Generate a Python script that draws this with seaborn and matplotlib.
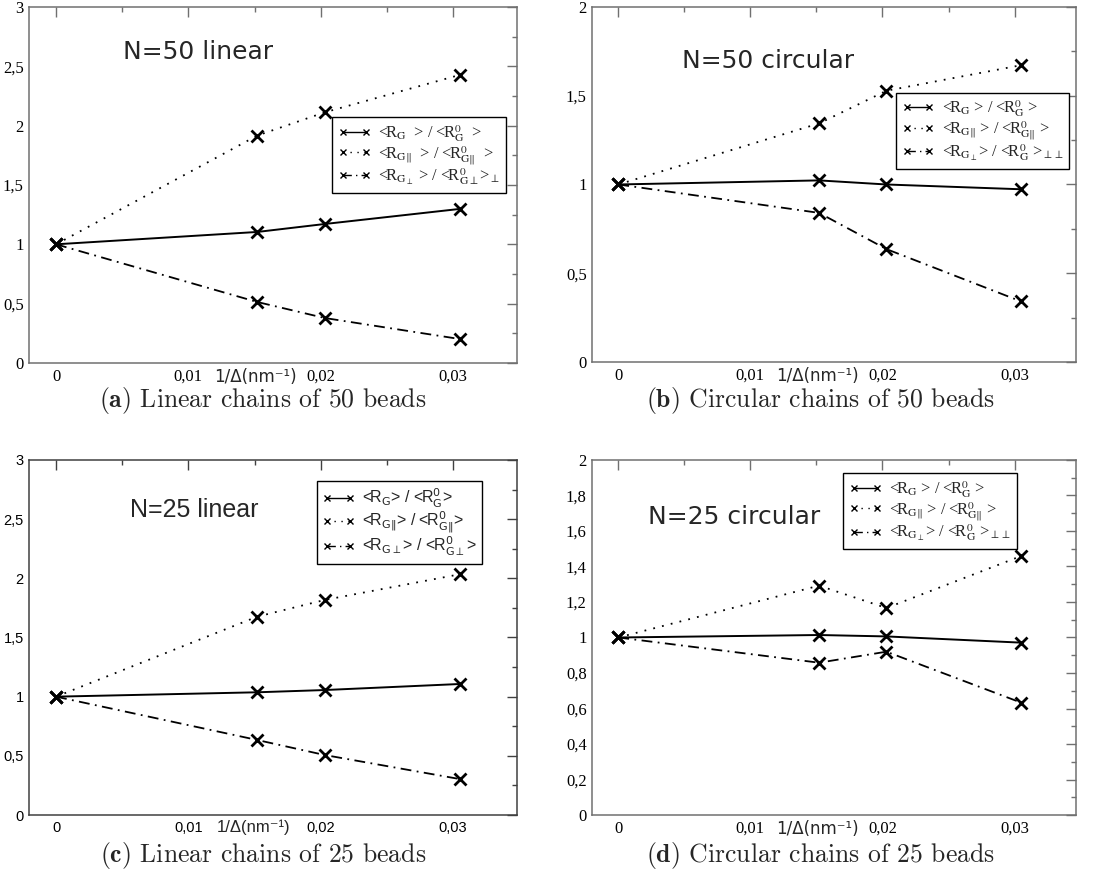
import matplotlib
matplotlib.use("Agg")
import matplotlib.pyplot as plt
import numpy as np
import pandas as pd
import seaborn as sns
from matplotlib.ticker import MultipleLocator, FuncFormatter
from matplotlib.font_manager import FontProperties

# ---------------- data ----------------
x_inv_delta = [0.0, 0.0152, 0.0203, 0.0305]

lin50_rg = [1.0, 1.104, 1.171, 1.298]
lin50_par = [1.0, 1.916, 2.112, 2.427]
lin50_perp = [1.0, 0.514, 0.379, 0.202]

circ50_rg = [1.0, 1.023, 1.000, 0.973]
circ50_par = [1.0, 1.344, 1.528, 1.672]
circ50_perp = [1.0, 0.840, 0.636, 0.341]

lin25_rg = [1.0, 1.037, 1.056, 1.107]
lin25_par = [1.0, 1.676, 1.817, 2.034]
lin25_perp = [1.0, 0.634, 0.507, 0.304]

circ25_rg = [1.0, 1.014, 1.006, 0.971]
circ25_par = [1.0, 1.292, 1.166, 1.459]
circ25_perp = [1.0, 0.858, 0.920, 0.633]

panel_titles = ["N=50 linear", "N=50 circular", "N=25 linear", "N=25 circular"]
captions_bold = ["(a)", "(b)", "(c)", "(d)"]
captions = ["Linear chains of 50 beads", "Circular chains of 50 beads",
            "Linear chains of 25 beads", "Circular chains of 25 beads"]
xlabel = "1/Δ(nm⁻¹)"

labels_a = [r"<R$_{\rm G}$  > / <R$^{0}_{\rm G}$  >",
            r"<R$_{\rm G\Vert}$  > / <R$^{0}_{\rm G\Vert}$  >",
            r"<R$_{{\rm G}_{\perp}}$ > / <R$^{0}_{\rm G\perp}$>$_{\perp}$"]
labels_b = [r"<R$_{\rm G}$ > / <R$^{0}_{\rm G}$ >",
            r"<R$_{\rm G\Vert}$ > / <R$^{0}_{\rm G\Vert}$ >",
            r"<R$_{{\rm G}_{\perp}}$> / <R$^{0}_{\rm G}$ >$_{\perp\perp}$"]
labels_c = [r"<R$_{\rm G}$> / <R$^{0}_{\rm G}$>",
            r"<R$_{\rm G\Vert}$> / <R$^{0}_{\rm G\Vert}$>",
            r"<R$_{\rm G\perp}$> / <R$^{0}_{\rm G\perp}$>"]
labels_d = labels_b

# ---------------- style ----------------
sns.set_theme(style="white")
plt.rcParams["font.family"] = ["DejaVu Sans"]

fig = plt.figure(figsize=(10.98, 8.81), dpi=100)

panels = [
    dict(pos=[0.0267, 0.5880, 0.4442, 0.4041], xlim=(-0.00202, 0.03484), ylim=(0, 3),
         ymaj=0.5, ymin=0.25, series=[lin50_rg, lin50_par, lin50_perp], labels=labels_a,
         serif=True, title_xy=(0.192, 0.874), leg_xy=(0.621, 0.691), xlab_x=0.463,
         spine="#707070"),
    dict(pos=[0.5394, 0.5891, 0.4403, 0.4030], xlim=(-0.00197, 0.03463), ylim=(0, 2),
         ymaj=0.5, ymin=0.25, series=[circ50_rg, circ50_par, circ50_perp], labels=labels_b,
         serif=True, title_xy=(0.186, 0.848), leg_xy=(0.628, 0.758), xlab_x=0.465,
         spine="#707070"),
    dict(pos=[0.0267, 0.0749, 0.4442, 0.4030], xlim=(-0.00202, 0.03484), ylim=(0, 3),
         ymaj=0.5, ymin=0.25, series=[lin25_rg, lin25_par, lin25_perp], labels=labels_c,
         serif=False, title_xy=(0.207, 0.859), leg_xy=(0.590, 0.941), xlab_x=0.459,
         spine="#404040"),
    dict(pos=[0.5394, 0.0749, 0.4403, 0.4030], xlim=(-0.00197, 0.03463), ylim=(0, 2),
         ymaj=0.2, ymin=0.1, series=[circ25_rg, circ25_par, circ25_perp], labels=labels_d,
         serif=True, title_xy=(0.115, 0.839), leg_xy=(0.519, 0.963), xlab_x=0.465,
         spine="#707070"),
]

linestyles = ["-", (0, (1, 4)), (0, (6, 3, 1, 3))]
linewidths = [1.4, 1.3, 1.3]


def comma_fmt(v, pos):
    v = round(v, 6)
    s = "%g" % v
    return s.replace(".", ",")


for i, p in enumerate(panels):
    ax = fig.add_axes(p["pos"])
    for ys, ls, lw, lab in zip(p["series"], linestyles, linewidths, p["labels"]):
        df = pd.DataFrame({"x": x_inv_delta, "y": ys})
        sns.lineplot(data=df, x="x", y="y", ax=ax, color="black", linestyle=ls,
                     linewidth=lw, marker="x", markersize=8, mew=2.0, mec="black",
                     label=lab, legend=False, sort=False)
    ax.set_xlim(*p["xlim"])
    ax.set_ylim(*p["ylim"])
    ax.xaxis.set_major_locator(MultipleLocator(0.01))
    ax.xaxis.set_minor_locator(MultipleLocator(0.005))
    ax.yaxis.set_major_locator(MultipleLocator(p["ymaj"]))
    ax.yaxis.set_minor_locator(MultipleLocator(p["ymin"]))
    ax.xaxis.set_major_formatter(FuncFormatter(comma_fmt))
    ax.yaxis.set_major_formatter(FuncFormatter(comma_fmt))

    if p["serif"]:
        tick_family, tick_size = "Liberation Serif", 12
        leg_prop = FontProperties(family="Liberation Serif", size=11.8, math_fontfamily="stix")
        title_family = "DejaVu Sans"
        xlab_family = ["DejaVu Sans"]
    else:
        tick_family, tick_size = "Liberation Sans", 10.5
        leg_prop = FontProperties(family="Liberation Sans", size=11.5, math_fontfamily="dejavusans")
        title_family = "Liberation Sans"
        xlab_family = ["Liberation Sans", "DejaVu Sans"]

    ax.tick_params(which="both", direction="in", top=True, right=True,
                   color=p["spine"], labelcolor="black", width=1.0,
                   labelfontfamily=tick_family, labelsize=tick_size)
    ax.tick_params(which="major", length=7)
    ax.tick_params(which="minor", length=3.5)
    ax.tick_params(axis="x", which="major", pad=4)
    ax.tick_params(axis="y", which="major", pad=4)
    for s in ax.spines.values():
        s.set_color(p["spine"])
        s.set_linewidth(1.1)
    ax.set_ylabel("")
    ax.set_xlabel("")

    ax.text(p["xlab_x"], -0.013, xlabel, transform=ax.transAxes, ha="center", va="top",
            fontsize=12, family=xlab_family)
    ax.text(p["title_xy"][0], p["title_xy"][1], panel_titles[i], transform=ax.transAxes,
            ha="left", va="center", fontsize=18, family=title_family)

    handles, labs = ax.get_legend_handles_labels()
    leg = ax.legend(handles, labs, loc="upper left", bbox_to_anchor=p["leg_xy"],
                    bbox_transform=ax.transAxes, borderaxespad=0, prop=leg_prop,
                    frameon=True, fancybox=False, edgecolor="black", framealpha=1,
                    numpoints=2, handlelength=2.0, handletextpad=0.45,
                    labelspacing=0.0, borderpad=0.35)
    leg.get_frame().set_linewidth(1.0)
    for h in leg.legend_handles:
        h.set_markersize(4)
        h.set_markeredgewidth(1.0)
        h.set_linewidth(1.0)

# captions
cap_pos = [(0.2395, 0.5455), (0.747, 0.5455), (0.2395, 0.0285), (0.747, 0.0285)]
for (cx, cy), b, c in zip(cap_pos, captions_bold, captions):
    fig.text(cx, cy, r"$\mathbf{%s}$ %s" % (b, c), ha="center", va="center",
             fontsize=18.5, family="cmr10", math_fontfamily="cm")

fig.savefig("out.png", dpi=100)
